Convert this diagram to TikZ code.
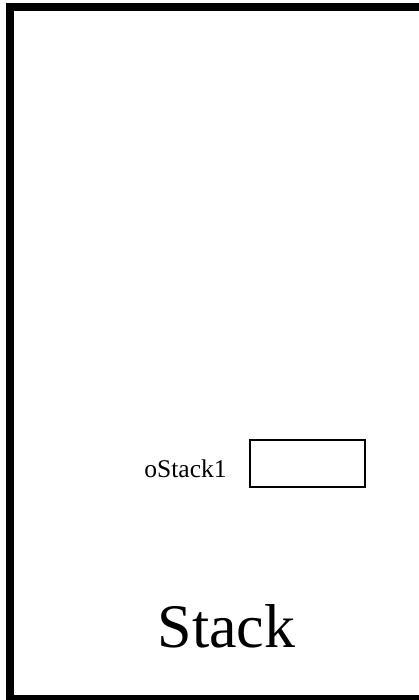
\documentclass[tikz,border=0pt]{standalone}
\usepackage{fontspec}
\setmainfont{Liberation Serif}
\usepackage{tikz}
\usetikzlibrary{positioning}

\begin{document}
\begin{tikzpicture}[x=1pt,y=-1pt,
    slotbox/.style={draw,line width=2pt,minimum width=115pt,minimum height=47pt,inner sep=0pt},
    slotlabel/.style={font=\fontsize{25.5}{30}\selectfont,inner sep=0pt,anchor=base},
    titlelabel/.style={font=\fontsize{62}{70}\selectfont,inner sep=0pt,anchor=base}]
    \useasboundingbox (0,0) rectangle (419,700);

    % Outer frame
    \draw[line width=8pt] (10,7.5) rectangle (424.2,699);

    % Stack slot
    \node[slotbox] (slot1) at (307.5,463.5) {};
    \node[slotlabel] (slot1label) at (185.5,477) {oStack1};

    % Title
    \node[titlelabel] (title) at (226.5,647) {Stack};
  \end{tikzpicture}
\end{document}
